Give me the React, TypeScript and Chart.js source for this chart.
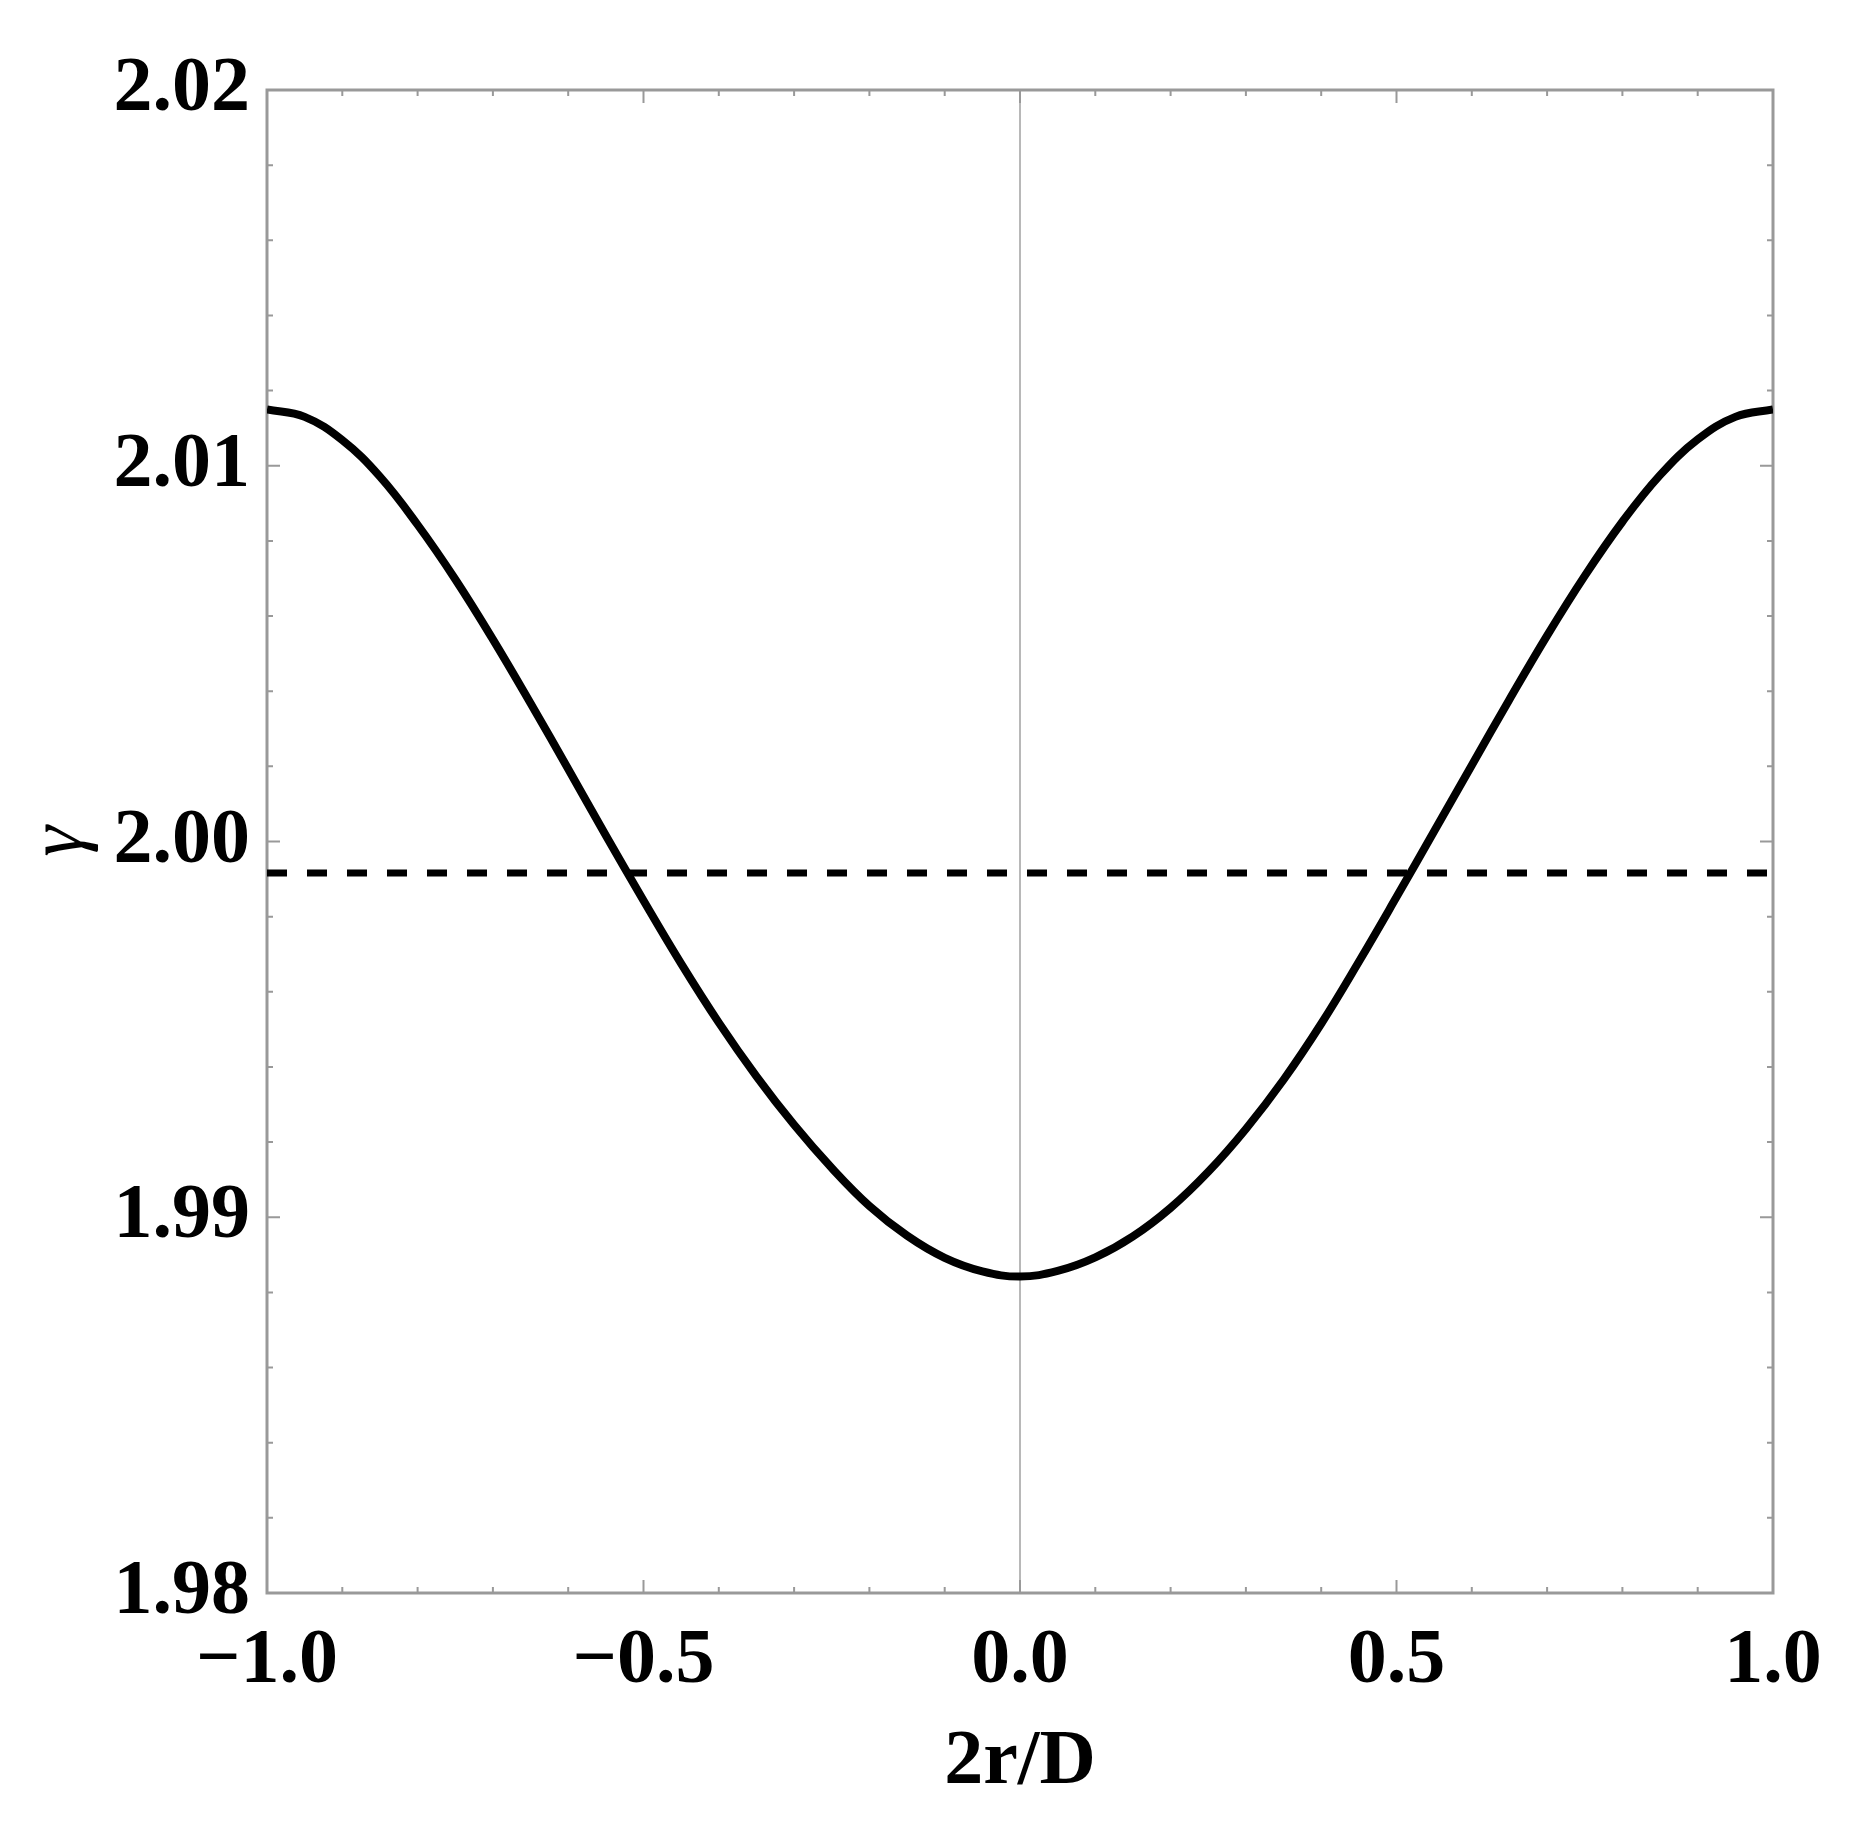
import { useEffect, useRef } from 'react'
import { Chart, registerables, type ChartConfiguration, type Plugin } from 'chart.js'

Chart.register(...registerables)

// values (2r/D -> gamma)
const radiusPositions = [
  -1.0, -0.95, -0.9, -0.85, -0.8, -0.75, -0.7, -0.65, -0.6, -0.55, -0.5, -0.45, -0.4, -0.35,
  -0.3, -0.25, -0.2, -0.15, -0.1, -0.05, 0.0, 0.05, 0.1, 0.15, 0.2, 0.25, 0.3, 0.35, 0.4, 0.45,
  0.5, 0.55, 0.6, 0.65, 0.7, 0.75, 0.8, 0.85, 0.9, 0.95, 1.0,
]
const gammaValues = [
  2.0115, 2.0113, 2.01068, 2.00971, 2.00843, 2.00698, 2.00538, 2.00368, 2.00193, 2.00016,
  1.99843, 1.99675, 1.99518, 1.99375, 1.99246, 1.99131, 1.9903, 1.98951, 1.98892, 1.98856,
  1.98842, 1.98857, 1.98893, 1.98949, 1.99025, 1.99121, 1.99235, 1.99366, 1.99515, 1.9968,
  1.99852, 2.00027, 2.00203, 2.00378, 2.00548, 2.00707, 2.00851, 2.00975, 2.0107, 2.0113,
  2.0115,
]
const referenceGamma = 1.99916
const referenceRange = [-1, 1]

const xMajorTicks = [-1, -0.5, 0, 0.5, 1]
const xMinorTicks = [-0.9, -0.8, -0.7, -0.6, -0.4, -0.3, -0.2, -0.1, 0.1, 0.2, 0.3, 0.4, 0.6, 0.7, 0.8, 0.9]
const yMajorTicks = [1.98, 1.99, 2.0, 2.01, 2.02]
const yMinorTicks = [1.982, 1.984, 1.986, 1.988, 1.992, 1.994, 1.996, 1.998, 2.002, 2.004, 2.006, 2.008, 2.012, 2.014, 2.016, 2.018]

const serif = "'Liberation Serif', 'DejaVu Serif', serif"
const labelFont = { family: serif, size: 78, weight: 'bold' as const }

const frameAndTicks: Plugin<'line'> = {
  id: 'frameAndTicks',
  beforeDatasetsDraw(chart) {
    const { ctx, chartArea, scales } = chart
    const x = scales.x
    const y = scales.y
    const { left, right, top, bottom } = chartArea

    ctx.save()
    // axis line at x = 0
    ctx.strokeStyle = '#b8b8b8'
    ctx.lineWidth = 2
    const x0 = x.getPixelForValue(0)
    ctx.beginPath()
    ctx.moveTo(x0, top)
    ctx.lineTo(x0, bottom)
    ctx.stroke()

    ctx.strokeStyle = '#999999'
    ctx.lineWidth = 2
    const drawX = (ticks: number[], len: number) => {
      ticks.forEach((v) => {
        const px = x.getPixelForValue(v)
        ctx.beginPath()
        ctx.moveTo(px, bottom)
        ctx.lineTo(px, bottom - len)
        ctx.moveTo(px, top)
        ctx.lineTo(px, top + len)
        ctx.stroke()
      })
    }
    const drawY = (ticks: number[], len: number) => {
      ticks.forEach((v) => {
        const py = y.getPixelForValue(v)
        ctx.beginPath()
        ctx.moveTo(left, py)
        ctx.lineTo(left + len, py)
        ctx.moveTo(right, py)
        ctx.lineTo(right - len, py)
        ctx.stroke()
      })
    }
    drawX(xMajorTicks, 13)
    drawX(xMinorTicks, 6)
    drawY(yMajorTicks, 13)
    drawY(yMinorTicks, 6)

    ctx.lineWidth = 3
    ctx.strokeRect(left, top, right - left, bottom - top)
    ctx.restore()
  },
}

const formatX = (v: number) => {
  if (Math.abs(v) < 1e-9) return '0.0'
  return v < 0 ? `\u2212${Math.abs(v).toFixed(1)}` : v.toFixed(1)
}

const App = () => {
  const canvasRef = useRef<HTMLCanvasElement | null>(null)

  useEffect(() => {
    document.body.style.margin = '0'
    if (!canvasRef.current) {
      return undefined
    }

    const config: ChartConfiguration<'line'> = {
      type: 'line',
      data: {
        datasets: [
          {
            label: 'gamma',
            data: radiusPositions.map((r, i) => ({ x: r, y: gammaValues[i] })),
            borderColor: '#000000',
            borderWidth: 8,
            pointRadius: 0,
            tension: 0.4,
          },
          {
            label: 'reference',
            data: referenceRange.map((r) => ({ x: r, y: referenceGamma })),
            borderColor: '#000000',
            borderWidth: 7,
            borderDash: [20, 20],
            pointRadius: 0,
          },
        ],
      },
      options: {
        animation: false,
        responsive: true,
        maintainAspectRatio: false,
        devicePixelRatio: 1,
        layout: {
          padding: { top: 90, right: 83, left: 0, bottom: 0 },
        },
        scales: {
          x: {
            type: 'linear',
            min: -1,
            max: 1,
            grid: { display: false },
            border: { display: false },
            ticks: {
              stepSize: 0.5,
              padding: 14,
              color: '#000000',
              font: labelFont,
              maxRotation: 0,
              callback: (value) => formatX(Number(value)),
            },
            title: {
              display: true,
              text: '2r/D',
              color: '#000000',
              font: labelFont,
              padding: { top: 0, bottom: 26 },
            },
            afterFit: (scale) => {
              scale.height = 243
            },
          },
          y: {
            type: 'linear',
            min: 1.98,
            max: 2.02,
            grid: { display: false },
            border: { display: false },
            ticks: {
              stepSize: 0.01,
              padding: 9,
              color: '#000000',
              font: labelFont,
              callback: (value) => Number(value).toFixed(2),
            },
            title: {
              display: true,
              text: 'γ',
              color: '#000000',
              font: { family: serif, size: 78, style: 'italic', weight: 'normal' },
              padding: { top: 14, bottom: 0 },
            },
            afterFit: (scale) => {
              scale.width = 267
            },
          },
        },
        plugins: {
          legend: { display: false },
          tooltip: { enabled: false },
        },
      },
      plugins: [frameAndTicks],
    }

    const chart = new Chart(canvasRef.current, config)

    return () => {
      chart.destroy()
    }
  }, [])

  return (
    <div style={{ position: 'relative', width: 1856, height: 1836, background: '#ffffff' }}>
      <canvas ref={canvasRef} aria-label="gamma versus 2r/D" />
    </div>
  )
}

export default App
